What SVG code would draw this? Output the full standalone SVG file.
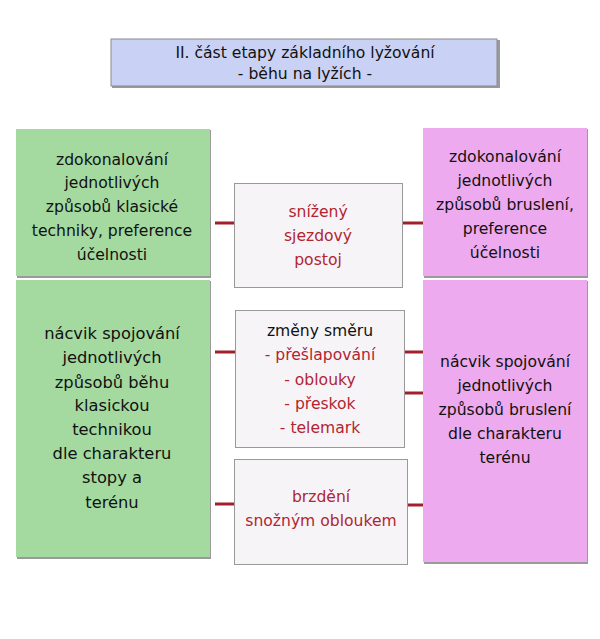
<svg xmlns="http://www.w3.org/2000/svg" width="600" height="639" viewBox="0 0 600 639">
<style>
text{font-family:"DejaVu Sans","Liberation Sans",sans-serif;font-size:15.6px;text-anchor:middle;dominant-baseline:central;fill:#111}
.shadow{fill:#9a9a9a}
.title{fill:#c9d1f5;stroke:#8a8a8a;stroke-width:1}
.green{fill:#a4d9a0}
.pink{fill:#eeaaee}
.mid{fill:#f7f4f8;stroke:#999;stroke-width:1}
.red{fill:#b02530}
.conn{stroke:#a0202c;stroke-width:3}
.lb{font-size:16.3px}
</style>
<rect width="600" height="639" fill="#fff"/>
<g id="title">
<rect class="shadow" x="112" y="40" width="388" height="48"/>
<rect class="title" x="111" y="39" width="386" height="47"/>
<text x="305" y="53">II. část etapy základního lyžování</text>
<text x="305" y="74">- běhu na lyžích -</text>
</g>
<g id="connectors">
<line class="conn" x1="215" y1="223" x2="234" y2="223"/>
<line class="conn" x1="403" y1="223" x2="423" y2="223"/>
<line class="conn" x1="215" y1="352" x2="235" y2="352"/>
<line class="conn" x1="405" y1="352" x2="423" y2="352"/>
<line class="conn" x1="405" y1="393" x2="423" y2="393"/>
<line class="conn" x1="215" y1="504" x2="234" y2="504"/>
<line class="conn" x1="408" y1="505" x2="424" y2="505"/>
</g>
<g id="left-top">
<rect class="shadow" x="17" y="130" width="194" height="148"/>
<rect class="green" x="16" y="129" width="194" height="147"/>
<text x="112" y="160">zdokonalování</text>
<text x="112" y="183">jednotlivých</text>
<text x="112" y="207">způsobů klasické</text>
<text x="112" y="231">techniky, preference</text>
<text x="112" y="255">účelnosti</text>
</g>
<g id="left-bottom">
<rect class="shadow" x="17" y="281" width="194" height="278"/>
<rect class="green" x="16" y="280" width="194" height="277"/>
<text class="lb" x="112" y="333">nácvik spojování</text>
<text class="lb" x="112" y="357">jednotlivých</text>
<text class="lb" x="112" y="382">způsobů běhu</text>
<text class="lb" x="112" y="405">klasickou</text>
<text class="lb" x="112" y="429">technikou</text>
<text class="lb" x="112" y="453">dle charakteru</text>
<text class="lb" x="112" y="477">stopy a</text>
<text class="lb" x="112" y="502">terénu</text>
</g>
<g id="right-top">
<rect class="shadow" x="424" y="129" width="164" height="149"/>
<rect class="pink" x="423" y="128" width="164" height="148"/>
<text x="505" y="157">zdokonalování</text>
<text x="505" y="181">jednotlivých</text>
<text x="505" y="205">způsobů bruslení,</text>
<text x="505" y="229">preference</text>
<text x="505" y="253">účelnosti</text>
</g>
<g id="right-bottom">
<rect class="shadow" x="424" y="281" width="164" height="283"/>
<rect class="pink" x="423" y="280" width="164" height="282"/>
<text x="505" y="362">nácvik spojování</text>
<text x="505" y="386">jednotlivých</text>
<text x="505" y="410">způsobů bruslení</text>
<text x="505" y="434">dle charakteru</text>
<text x="505" y="458">terénu</text>
</g>
<g id="mid-1">
<rect class="mid" x="234.5" y="183.5" width="168" height="104"/>
<text class="red" x="318" y="212">snížený</text>
<text class="red" x="318" y="236">sjezdový</text>
<text class="red" x="318" y="260">postoj</text>
</g>
<g id="mid-2">
<rect class="mid" x="235.5" y="310.5" width="169" height="137"/>
<text x="320" y="331">změny směru</text>
<text class="red" x="320" y="355">- přešlapování</text>
<text class="red" x="320" y="380">- oblouky</text>
<text class="red" x="320" y="404">- přeskok</text>
<text class="red" x="320" y="428">- telemark</text>
</g>
<g id="mid-3">
<rect class="mid" x="234.5" y="459.5" width="173" height="105"/>
<text class="red" x="321" y="497">brzdění</text>
<text class="red" x="321" y="521">snožným obloukem</text>
</g>
</svg>
